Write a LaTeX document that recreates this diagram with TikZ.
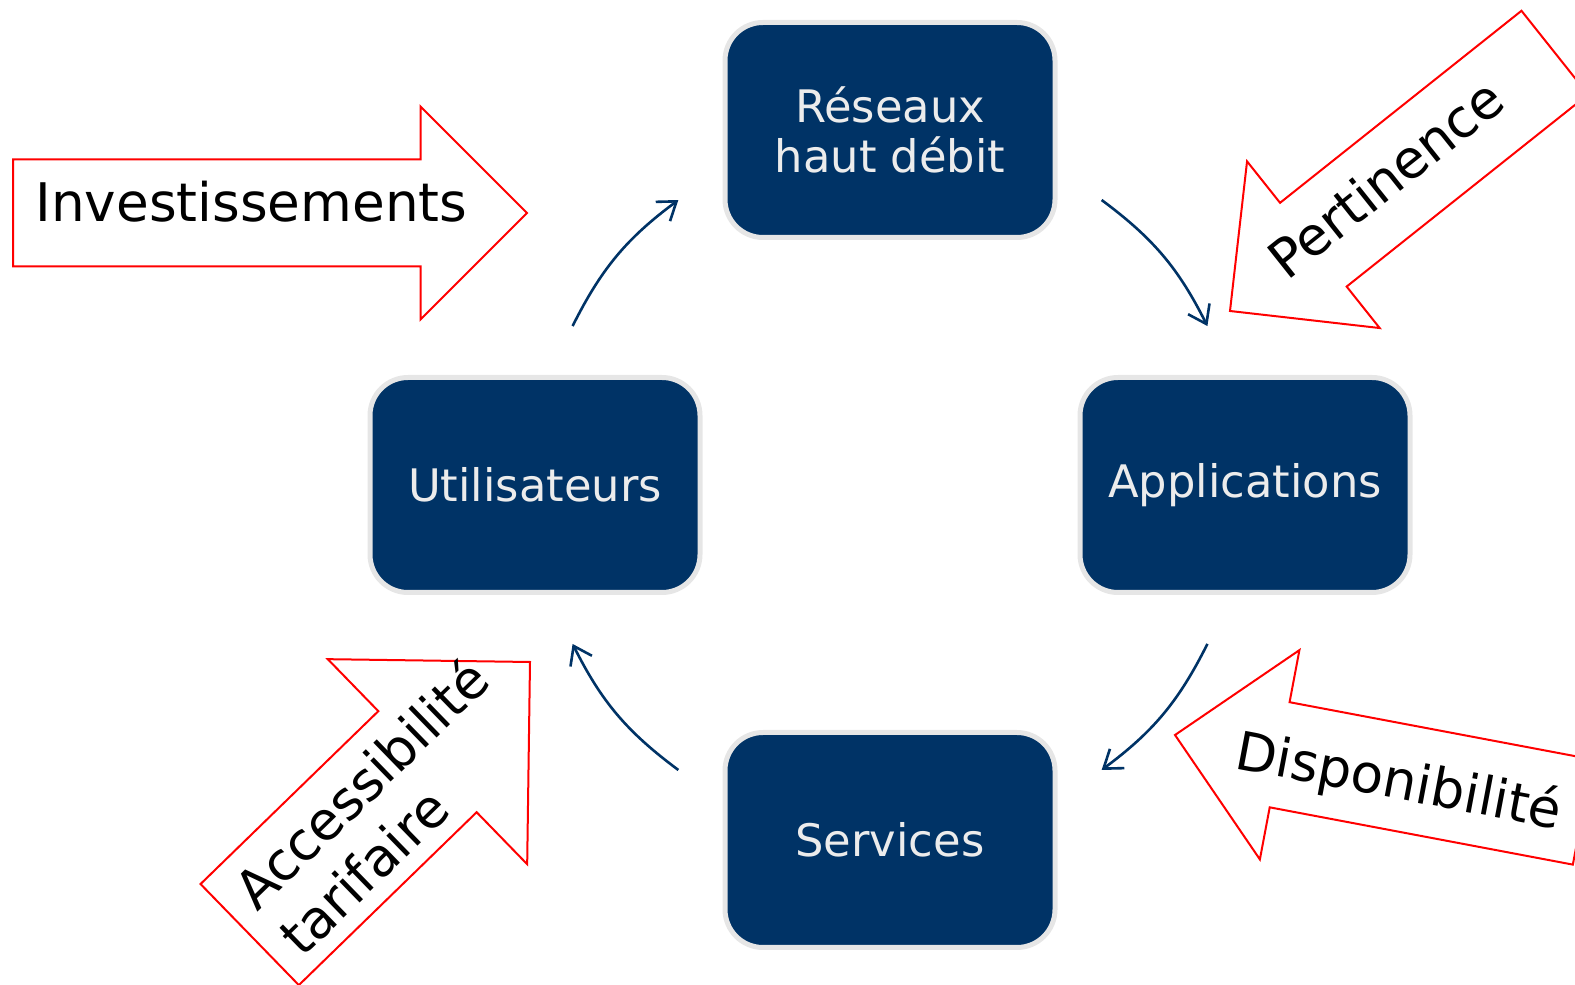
\documentclass[tikz,border=0pt]{standalone}
\usepackage{fontspec}
\setmainfont{DejaVu Sans}
\usetikzlibrary{arrows.meta, calc}
\definecolor{marine}{RGB}{0,51,102}
\definecolor{cadre}{RGB}{230,230,230}
\definecolor{clair}{RGB}{236,236,236}

\begin{document}
\begin{tikzpicture}[
    x=0.5pt, y=0.5pt,
    etape/.style={draw=cadre, line width=2.5pt, fill=marine, text=clair,
                  rounded corners=19pt, minimum width=165pt, minimum height=107.5pt,
                  align=center, font=\fontsize{22.4}{25}\selectfont},
    boucle/.style={draw=marine, line width=1.3pt, -{Straight Barb[length=8.5pt,width=12pt]}, bend left=13.4},
    levier/.style={font=\fontsize{26.6}{29}\selectfont, anchor=base west, inner sep=0pt},
    pics/fleche/.style args={#1/#2/#3}{code={
        \draw[red, line width=1pt, fill=white]
            (0,0) -- (-#3,#3) -- (-#3,#2) -- (-#1,#2) -- (-#1,-#2) -- (-#3,-#2) -- (-#3,-#3) -- cycle;
    }}
]
    \useasboundingbox (0,0) rectangle (1575,985);
    \clip (0,0) rectangle (1575,985);

    % the four steps around the loop
    \coordinate (hub) at (890,500);
    \node[etape] (res) at ($(hub)+(90:355)$) {Réseaux\\haut débit};
    \node[etape] (app) at ($(hub)+(0:355)$) {Applications};
    \node[etape] (srv) at ($(hub)+(270:355)$) {Services};
    \node[etape] (usr) at ($(hub)+(180:355)$) {Utilisateurs};

    % arc ends between the steps
    \coordinate (usr-out) at ($(hub)+(153.4:355)$);
    \coordinate (res-in)  at ($(hub)+(126.6:355)$);
    \coordinate (res-out) at ($(hub)+(53.4:355)$);
    \coordinate (app-in)  at ($(hub)+(26.6:355)$);
    \coordinate (app-out) at ($(hub)+(-26.6:355)$);
    \coordinate (srv-in)  at ($(hub)+(-53.4:355)$);
    \coordinate (srv-out) at ($(hub)+(-126.6:355)$);
    \coordinate (usr-in)  at ($(hub)+(-153.4:355)$);

    \draw[boucle] (usr-out) to (res-in);
    \draw[boucle] (res-out) to (app-in);
    \draw[boucle] (app-out) to (srv-in);
    \draw[boucle] (srv-out) to (usr-in);

    % levers pushing on the loop
    \pic (invest) at (527,772) {fleche=514/53.5/106.5};
    \pic[rotate=218.5] (pert) at (1230,674) {fleche=415/53.5/106.5};
    \pic[rotate=169.3] (dispo) at (1175,250) {fleche=415/53.5/106.5};
    \pic[rotate=44.2] (acces) at (530,323) {fleche=391/70.5/143};

    \node[levier] (l-invest) at (35,763) {Investissements};
    \node[levier, rotate=38.5] (l-pert) at (1287,703) {Pertinence};
    \node[levier, rotate=-10.7] (l-dispo) at (1233,217) {Disponibilité};
    \node[levier, rotate=44.2] (l-acces) at (257,72) {Accessibilité};
    \node[levier, rotate=44.2] (l-tarif) at (302,26) {tarifaire};
\end{tikzpicture}
\end{document}
